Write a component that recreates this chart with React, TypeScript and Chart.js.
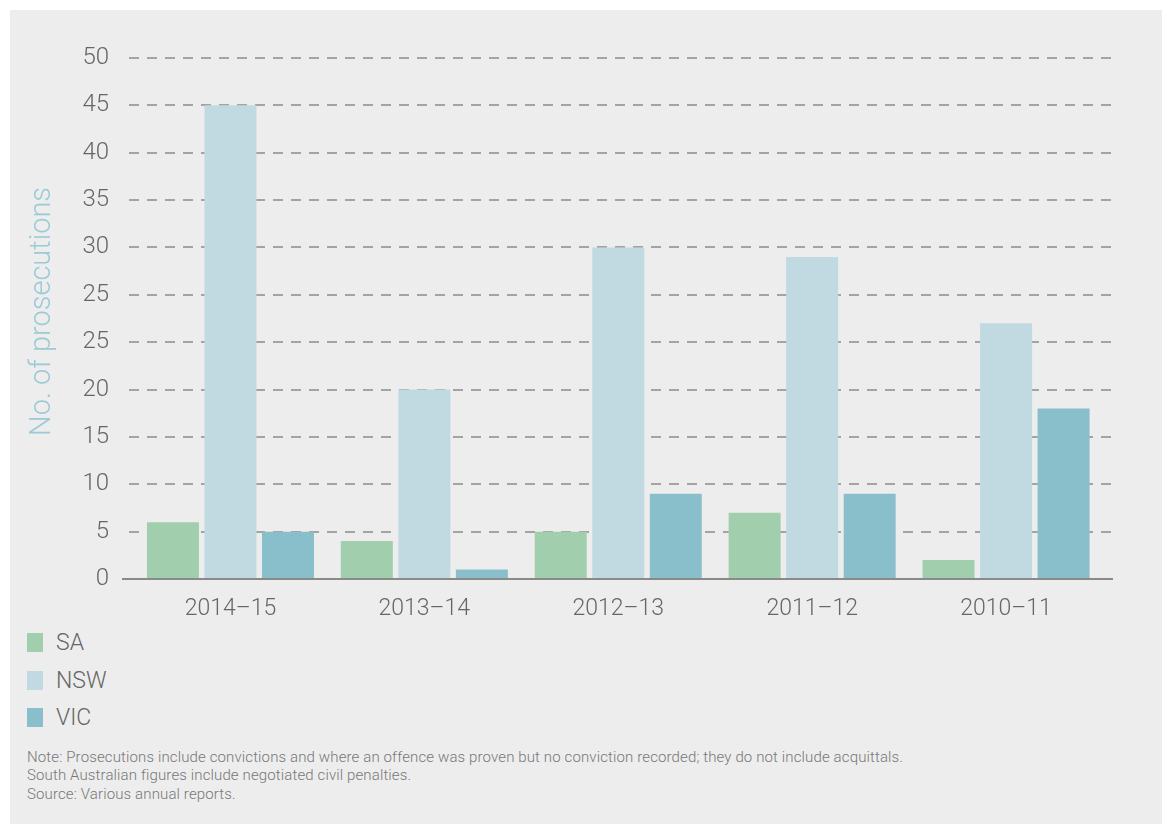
import React, { useEffect, useRef } from "react";
import { Chart, registerables } from "chart.js";

Chart.register(...registerables);

const categories = ["2014–15", "2013–14", "2012–13", "2011–12", "2010–11"];
const seriesNames = ["SA", "NSW", "VIC"];
const saValues = [6, 4, 5, 7, 2];
const nswValues = [50, 20, 35, 34, 27];
const vicValues = [5, 1, 9, 9, 18];
const seriesColors = ["#a1cfae", "#c1dae1", "#89bfcb"];
const yTickLabels = ["0", "5", "10", "15", "20", "25", "25", "30", "35", "40", "45", "50"];
const yTitle = "No. of prosecutions";
const notes = [
  "Note: Prosecutions include convictions and where an offence was proven but no conviction recorded; they do not include acquittals.",
  "South Australian figures include negotiated civil penalties.",
  "Source: Various annual reports.",
];

const FONT = "Roboto, 'Liberation Sans', sans-serif";

const gridPlugin = {
  id: "dashGrid",
  beforeDatasetsDraw(chart: any) {
    const { ctx, chartArea, scales } = chart;
    const y = scales.y;
    const x0 = chartArea.left - 11.5;
    const x1 = chartArea.right + 10;
    ctx.save();
    ctx.strokeStyle = "#8a8a8a";
    ctx.lineWidth = 1.5;
    ctx.setLineDash([10, 8]);
    ctx.lineDashOffset = 11;
    y.ticks.forEach((t: any) => {
      if (t.value === 0) return;
      const py = Math.round(y.getPixelForValue(t.value));
      ctx.beginPath();
      ctx.moveTo(x0, py);
      ctx.lineTo(x1, py);
      ctx.stroke();
    });
    ctx.restore();
  },
  afterDatasetsDraw(chart: any) {
    const { ctx, chartArea, scales } = chart;
    const y = scales.y;
    const py = Math.round(y.getPixelForValue(0));
    ctx.save();
    ctx.strokeStyle = "#8a8a8a";
    ctx.lineWidth = 2;
    ctx.beginPath();
    ctx.moveTo(chartArea.left - 11.5, py);
    ctx.lineTo(chartArea.right + 10, py);
    ctx.stroke();
    ctx.restore();
  },
};

export default function App() {
  const canvasRef = useRef<HTMLCanvasElement | null>(null);

  useEffect(() => {
    if (!canvasRef.current) return;
    const valuesList = [saValues, nswValues, vicValues];
    const chart = new Chart(canvasRef.current, {
      type: "bar",
      data: {
        labels: categories,
        datasets: seriesNames.map((name, i) => ({
          label: name,
          data: valuesList[i],
          backgroundColor: seriesColors[i],
          borderWidth: 0,
          categoryPercentage: 0.89,
          barPercentage: 0.904,
        })),
      },
      options: {
        animation: false,
        responsive: false,
        maintainAspectRatio: false,
        layout: { padding: { top: 48, right: 59, left: 0, bottom: 0 } },
        plugins: {
          legend: { display: false },
          tooltip: { enabled: false },
        },
        scales: {
          x: {
            grid: { display: false },
            border: { display: false },
            ticks: {
              color: "#666",
              padding: 8,
              font: { family: FONT, size: 23, weight: "300" as any },
              maxRotation: 0,
            },
            afterFit(scale: any) {
              scale.height = 50;
            },
          },
          y: {
            min: 0,
            max: 55,
            grid: { display: false },
            border: { display: false },
            ticks: {
              stepSize: 5,
              color: "#666",
              padding: 16.5,
              font: { family: FONT, size: 24, weight: "300" as any },
              callback: (_v: any, i: number) => yTickLabels[i],
            },
            title: {
              display: true,
              text: "\u00a0\u00a0" + yTitle,
              color: "#9ccad6",
              padding: { top: 15.5, bottom: 0 },
              font: { family: FONT, size: 29, weight: "300" as any },
            },
            afterFit(scale: any) {
              scale.width = 123.5;
            },
          },
        },
      },
      plugins: [gridPlugin],
    });
    return () => chart.destroy();
  }, []);

  return (
    <div
      style={{
        position: "absolute",
        left: 10,
        top: 10,
        width: 1152,
        height: 814,
        background: "#ededed",
        fontFamily: FONT,
        overflow: "hidden",
      }}
    >
      <canvas ref={canvasRef} width={1152} height={619} style={{ position: "absolute", left: 0, top: 0 }} />
      {seriesNames.map((name, i) => (
        <div key={name} style={{ position: "absolute", left: 17, top: 623 + i * 37.5, height: 19, display: "flex", alignItems: "center" }}>
          <div style={{ width: 16, height: 19, background: seriesColors[i] }} />
          <div style={{ marginLeft: 13, fontSize: 23, fontWeight: 300, color: "#666", lineHeight: "19px" }}>{name}</div>
        </div>
      ))}
      <div style={{ position: "absolute", left: 17, top: 738, fontSize: 15, fontWeight: 300, color: "#777", lineHeight: "18.3px", whiteSpace: "nowrap", letterSpacing: "0.13px" }}>
        {notes.map((n) => (
          <div key={n}>{n}</div>
        ))}
      </div>
    </div>
  );
}
